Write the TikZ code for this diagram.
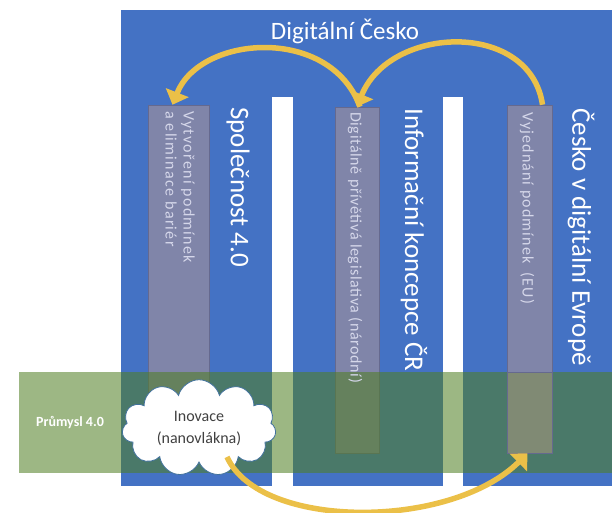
\documentclass[tikz,border=0pt]{standalone}
\usepackage{fontspec}
\setmainfont{Carlito}
\usetikzlibrary{arrows.meta, positioning, shapes.symbols}
\definecolor{dcblue}{HTML}{4472C4}
\definecolor{dcgreen}{HTML}{507F23}
\definecolor{dcgray}{HTML}{8085A9}
\definecolor{dcgrayline}{HTML}{65698F}
\definecolor{dcolive}{HTML}{808A74}
\definecolor{dcgold}{HTML}{EBC048}
\definecolor{dctext}{HTML}{D5D7EA}
\definecolor{dccloud}{HTML}{41719C}
\definecolor{dcdark}{HTML}{404040}

\begin{document}
\begin{tikzpicture}[x=1pt,y=-1pt,
    pillar/.style={fill=dcgray,draw=dcgrayline,line width=0.6pt,inner sep=0pt},
    pillartext/.style={rotate=-90,anchor=west,text=dctext,font=\fontsize{16}{18}\selectfont,inner sep=0pt},
    pillarhead/.style={rotate=-90,anchor=west,text=white,font=\fontsize{27}{30}\selectfont,inner sep=0pt},
    goldarrow/.style={line width=5.5pt,dcgold,-{Triangle[length=13pt,width=24pt]}}]
    \useasboundingbox (0,0) rectangle (612,512);
    \fill[dcblue] (121,10) rectangle (612,486);
    \fill[white] (272,97) rectangle (293,486);
    \fill[white] (443,97) rectangle (463,486);
    \node[pillar,minimum width=61,minimum height=348] (b1) at (178.5,279) {};
    \node[pillar,minimum width=44,minimum height=346] (b2) at (357,280) {};
    \node[pillar,minimum width=45,minimum height=348] (b3) at (529.5,279) {};
    \fill[dcgreen,fill opacity=0.56] (19,372) rectangle (612,473);
    \fill[dcolive,draw=dcgrayline,line width=0.6pt] (507,372) rectangle (552,453);
    \node[text=white,font=\fontsize{25}{28}\selectfont] (title) at (345,31) {Digitální Česko};
    \node[pillarhead] (h1) at (238,107) {Společnost 4.0};
    \node[pillarhead] (h2) at (414,108) {Informační koncepce ČR};
    \node[pillarhead] (h3) at (581,108) {Česko v digitální Evropě};
    \node[pillartext,anchor=north west,align=left] (t1) at (195,111) {\addfontfeatures{LetterSpace=8}Vytvoření podmínek\\\addfontfeatures{LetterSpace=8}a eliminace bariér};
    \node[pillartext] (t2) at (355,112) {\addfontfeatures{LetterSpace=4}Digitálně přívětivá legislativa (národní)};
    \node[pillartext] (t3) at (527,112) {\addfontfeatures{LetterSpace=7}Vyjednání podmínek~~(EU)};
    \node[text=white,font=\bfseries\fontsize{14}{16}\selectfont] (ind) at (70,423) {Průmysl 4.0};
    \node[cloud,cloud puffs=11,aspect=1.8,minimum width=154,minimum height=87,fill=white,draw=dccloud,line width=0.8pt,align=center,text=dcdark,font=\fontsize{16}{22}\selectfont] (cloud) at (199,428) {Inovace\\(nanovlákna)};
    \draw[goldarrow] ([xshift=3]b2.north) .. controls (330,25) and (200,35) .. ([xshift=-6]b1.north);
    \draw[goldarrow] ([xshift=13]b3.north) .. controls (530,20) and (390,25) .. (b2.north);
    \draw[goldarrow] ([xshift=28pt,yshift=6pt]cloud.south) .. controls (260,530) and (450,530) .. ([xshift=-2]b3.south);
\end{tikzpicture}
\end{document}
